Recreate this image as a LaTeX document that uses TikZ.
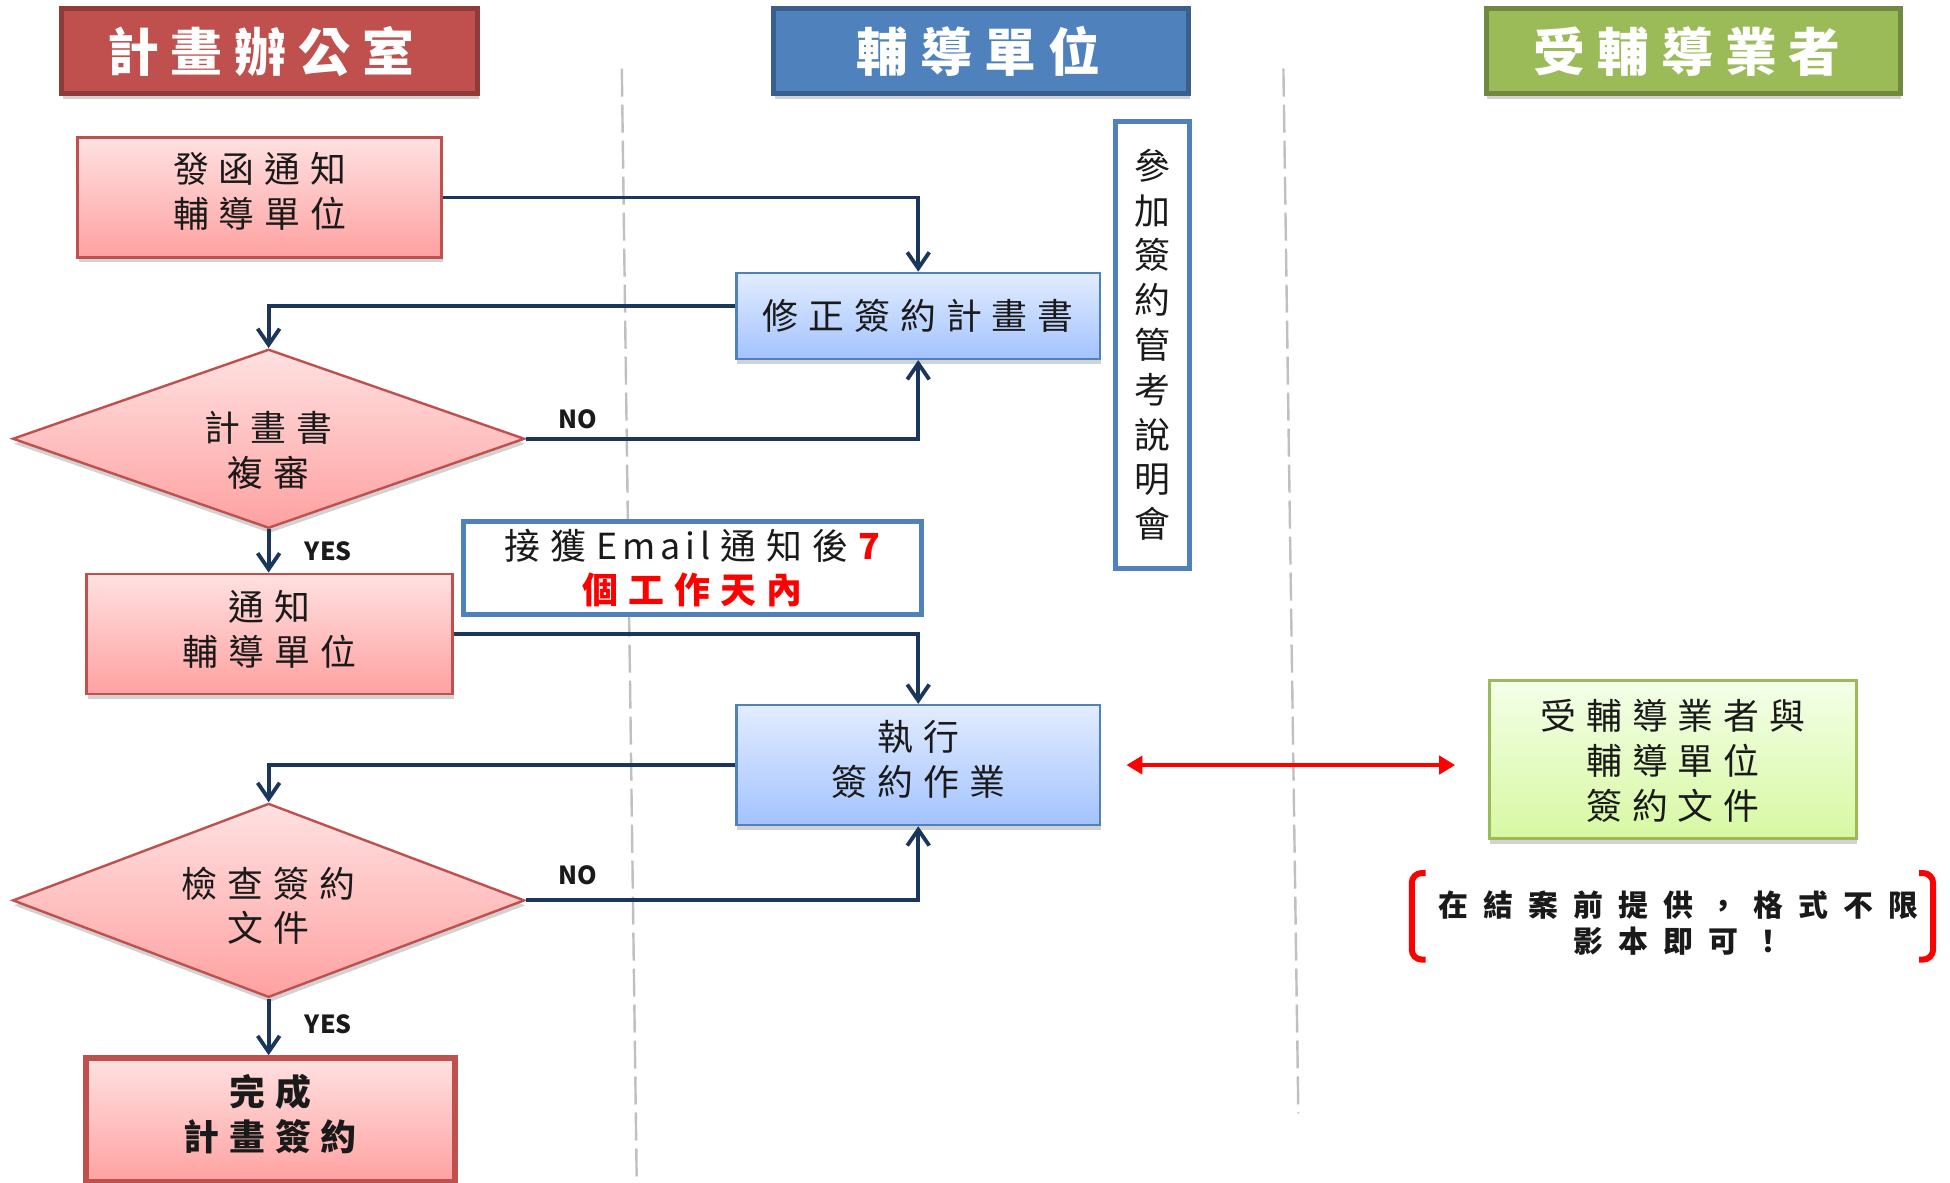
\documentclass[tikz,border=0pt]{standalone}
\usepackage{fontspec}
\setmainfont{Noto Sans CJK TC}
\usetikzlibrary{arrows.meta,shapes.geometric,shadows,calc}
\makeatletter
\newlength\lsgap
\setlength\lsgap{5pt}
\newcommand\ls[1]{{\let\ls@sep\relax\@tfor\ls@c:=#1\do{\ls@sep\ls@c\def\ls@sep{\hspace{\lsgap}}}}}
\makeatother
\newcommand\ml[1]{\begin{tabular}[t]{@{}c@{}}#1\end{tabular}}
\definecolor{hdrred}{HTML}{C0504D}
\definecolor{hdrredb}{HTML}{8E3B39}
\definecolor{hdrblue}{HTML}{4F81BD}
\definecolor{hdrblueb}{HTML}{3A5F8C}
\definecolor{hdrgreen}{HTML}{9BBB59}
\definecolor{hdrgreenb}{HTML}{71893F}
\definecolor{pinktop}{HTML}{FFE1E1}
\definecolor{pinkbot}{HTML}{FFA1A1}
\definecolor{bluetop}{HTML}{E2ECFF}
\definecolor{bluebot}{HTML}{A3C3FF}
\definecolor{greentop}{HTML}{F4FFE8}
\definecolor{greenbot}{HTML}{D7F8A2}
\definecolor{navy}{HTML}{1B365D}
\definecolor{lanegray}{HTML}{C0C0C0}
\definecolor{txt}{HTML}{1A1A1A}
\tikzset{
  shadowed/.style={drop shadow={opacity=0.25, shadow xshift=0.5bp, shadow yshift=-2.5bp, fill=black!70}},
  header/.style={draw, line width=2.5bp, minimum height=42.5bp, inner sep=0pt, text=white,
    font={\fontsize{26}{30}\selectfont\bfseries\setlength\lsgap{6pt}}, shadowed},
  boxfont/.style={font={\fontsize{18}{22.5}\selectfont\setlength\lsgap{5pt}}, text=txt, align=center, inner sep=0pt},
  pinkbox/.style={boxfont, rectangle, draw=hdrred, line width=1.2bp, top color=pinktop, bottom color=pinkbot, shadowed},
  bluebox/.style={boxfont, rectangle, draw=hdrblue, line width=1.2bp, top color=bluetop, bottom color=bluebot, shadowed},
  greenbox/.style={boxfont, rectangle, draw=hdrgreen, line width=1.2bp, top color=greentop, bottom color=greenbot, shadowed},
  decision/.style={boxfont, diamond, aspect=2.8, draw=hdrred, line width=1.2bp, top color=pinktop, bottom color=pinkbot,
    minimum width=256bp, minimum height=89.5bp, shadowed},
  whitebox/.style={boxfont, rectangle, draw=hdrblue, line width=2.5bp, fill=white},
  lbl/.style={font={\fontsize{12.5}{14}\selectfont\bfseries}, text=txt, inner sep=0pt},
  notetext/.style={font={\fontsize{15}{18}\selectfont\bfseries\setlength\lsgap{7.6pt}}, text=txt, align=center, inner sep=0pt},
  lane/.style={draw=lanegray, line width=1.2bp, dash pattern=on 14bp off 4bp},
  flow/.style={draw=navy, line width=1.9bp, -{Straight Barb[length=8bp,width=11bp]}},
  redarrow/.style={draw=red, line width=2.4bp, {Triangle[length=8bp,width=9bp]}-{Triangle[length=8bp,width=9bp]}},
  bracket/.style={draw=red, line width=3bp, rounded corners=5bp}
}
\begin{document}
\begin{tikzpicture}[x=0.5bp, y=-0.5bp, scale=0.995]
\fill[white] (0,0) rectangle (1960,1189);
\useasboundingbox (0,0) rectangle (1960,1189);

% swimlane separators
\draw[lane] (625,69) -- (640,1189);
\draw[lane] (1290,69) -- (1305,1119);

% headers
\node[header, draw=hdrredb, fill=hdrred, minimum width=208bp] (h1) at (271,51.5) {\ls{計畫辦公室}\kern9bp};
\node[header, draw=hdrblueb, fill=hdrblue, minimum width=207.5bp] (h2) at (986.5,51.5) {\ls{輔導單位}\kern3bp};
\node[header, draw=hdrgreenb, fill=hdrgreen, minimum width=207bp] (h3) at (1702,51.5) {\ls{受輔導業者}\kern6bp};

% nodes
\node[pinkbox, minimum width=182bp, minimum height=60bp, text height=15.75pt, text depth=30.65pt] (n1) at (261,198.5) {\ml{\ls{發函通知}\\\ls{輔導單位}}};
\node[bluebox, minimum width=182bp, minimum height=43bp] (n2) at (923,317.5) {\ls{修正簽約計畫書}};
\node[decision, text height=15.75pt, text depth=13.15pt] (d1) at (270,441) {\ml{\ls{計畫書}\\\ls{複審}}};
\node[pinkbox, minimum width=183bp, minimum height=60bp, text height=15.75pt, text depth=28.65pt] (n3) at (271,637) {\ml{\ls{通知}\\\ls{輔導單位}}};
\node[whitebox, minimum width=229bp, minimum height=46.5bp] (e) at (696,571)
  {\ls{接獲}\hspace{\lsgap}{\setlength\lsgap{2.5pt}\ls{Email}}\hspace{\lsgap}\ls{通知後}\hspace{\lsgap}\textcolor{red}{\bfseries 7}\\\textcolor{red}{\bfseries\ls{個工作天內}}};
\node[bluebox, minimum width=182bp, minimum height=60bp, text height=15.75pt, text depth=30.65pt] (n4) at (923,769) {\ml{\ls{執行}\\\ls{簽約作業}}};
\node[whitebox, minimum width=37bp, minimum height=223.5bp] (v) at (1158,346.5) {參\\加\\簽\\約\\管\\考\\說\\明\\會};
\node[decision, minimum height=97bp, text height=15.75pt, text depth=19.15pt] (d2) at (270,905) {\ml{\ls{檢查簽約}\\\ls{文件}}};
\node[pinkbox, line width=3bp, minimum width=184.5bp, minimum height=62bp, text height=15.75pt, text depth=30.65pt,
  font={\fontsize{18}{22.5}\selectfont\bfseries\setlength\lsgap{5pt}}] (n5) at (271.5,1126) {\ml{\ls{完成}\\\ls{計畫簽約}}};
\node[greenbox, minimum width=183.5bp, minimum height=79bp, text height=15.75pt, text depth=45.9pt] (g) at (1681.5,763.5) {\ml{\ls{受輔導業者與}\\\ls{輔導單位}\\\ls{簽約文件}}};

% note with brackets
\node[notetext] (note) at (1687,927.5) {\ls{在結案前提供，格式不限}\\\ls{影本即可！}};
\draw[bracket] (1433,877.5) -- (1419,877.5) -- (1419,964.5) -- (1433,964.5);
\draw[bracket] (1929,877.5) -- (1943,877.5) -- (1943,964.5) -- (1929,964.5);

% connectors
\draw[flow] (n1.east) -| (n2.north);
\draw[flow] ([yshift=5bp]n2.west) -| (d1.north);
\draw[flow] (d1.east) -| (n2.south);
\draw[flow] (d1.south) -- (d1.south |- n3.north);
\draw[flow] (n3.east) -| (n4.north);
\draw[flow] (n4.west) -| (d2.north);
\draw[flow] (d2.east) -| (n4.south);
\draw[flow] (d2.south) -- (d2.south |- n5.north);
\draw[redarrow, shorten <=12.5bp, shorten >=16.5bp] (n4.east) -- (n4.east -| g.west);

% labels
\node[lbl] (no1) at (581,421) {NO};
\node[lbl] (yes1) at (330,554) {YES};
\node[lbl] (no2) at (581,880) {NO};
\node[lbl] (yes2) at (330,1029) {YES};
\end{tikzpicture}
\end{document}
